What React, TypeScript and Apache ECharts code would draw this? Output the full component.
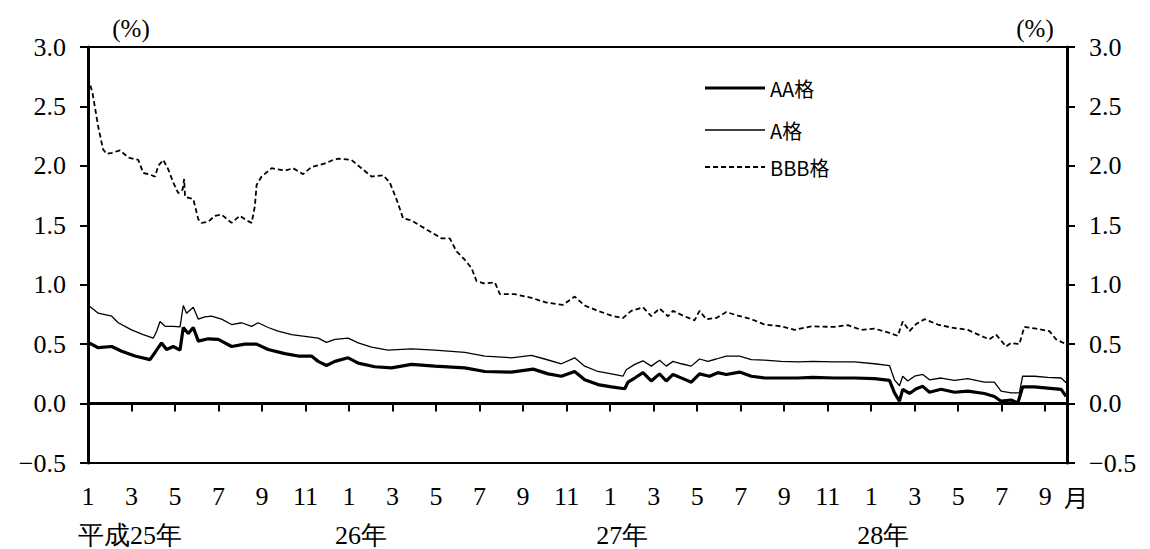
import React, { useEffect, useRef } from "react";
import * as echarts from "echarts";

// x = months elapsed since January 平成25年 (2013)
const monthTicks = [0, 2, 4, 6, 8, 10, 12, 14, 16, 18, 20, 22, 24, 26, 28, 30, 32, 34, 36, 38, 40, 42, 44];
const yearTicks = [0, 12, 24, 36];
const yearLabels = ["平成25年", "26年", "27年", "28年"];
const seriesNames = ["AA格", "A格", "BBB格"];

const aaData = [
  [0, 0.515], [0.47, 0.47], [1.09, 0.48], [1.55, 0.44], [2.16, 0.4], [2.85, 0.37], [3.08, 0.43], [3.38, 0.51],
  [3.61, 0.455], [3.92, 0.48], [4.23, 0.45], [4.38, 0.64], [4.61, 0.59], [4.84, 0.64], [5.07, 0.525], [5.53, 0.545],
  [5.99, 0.54], [6.6, 0.48], [7.21, 0.5], [7.75, 0.5], [8.28, 0.455], [9.05, 0.42], [9.66, 0.4], [10.27, 0.4],
  [10.58, 0.355], [10.96, 0.32], [11.35, 0.355], [11.96, 0.385], [12.42, 0.34], [13.18, 0.31], [13.95, 0.3],
  [14.87, 0.33], [15.94, 0.315], [17.32, 0.3], [18.24, 0.27], [19.46, 0.265], [20.46, 0.29], [21.15, 0.25],
  [21.76, 0.23], [22.37, 0.27], [22.83, 0.2], [23.44, 0.16], [24.06, 0.14], [24.67, 0.125], [24.82, 0.18],
  [25.13, 0.215], [25.51, 0.26], [25.89, 0.19], [26.27, 0.25], [26.58, 0.19], [26.89, 0.245], [27.35, 0.21],
  [27.73, 0.18], [28.11, 0.25], [28.57, 0.23], [28.95, 0.26], [29.34, 0.245], [29.95, 0.265], [30.49, 0.23],
  [31.1, 0.215], [31.86, 0.215], [32.63, 0.215], [33.32, 0.22], [34.31, 0.215], [35.23, 0.215], [36.15, 0.21],
  [36.84, 0.195], [37.07, 0.09], [37.3, 0.02], [37.45, 0.12], [37.76, 0.085], [38.07, 0.125], [38.37, 0.145],
  [38.68, 0.095], [39.21, 0.12], [39.83, 0.095], [40.44, 0.105], [41.2, 0.085], [41.66, 0.06], [41.97, 0.02],
  [42.43, 0.03], [42.74, 0.005], [42.96, 0.14], [43.5, 0.14], [44.11, 0.13], [44.73, 0.12], [44.96, 0.06],
];

const aData = [
  [0, 0.83], [0.47, 0.76], [1.09, 0.735], [1.39, 0.68], [2.0, 0.62], [2.54, 0.58], [3.0, 0.55], [3.16, 0.61],
  [3.31, 0.69], [3.54, 0.65], [3.92, 0.65], [4.23, 0.645], [4.38, 0.825], [4.53, 0.76], [4.84, 0.81], [5.07, 0.71],
  [5.37, 0.73], [5.68, 0.735], [6.14, 0.71], [6.6, 0.665], [7.06, 0.68], [7.52, 0.65], [7.82, 0.68], [8.28, 0.64],
  [8.74, 0.61], [9.36, 0.58], [9.97, 0.565], [10.58, 0.55], [10.96, 0.515], [11.35, 0.54], [11.96, 0.55],
  [12.42, 0.51], [13.03, 0.475], [13.79, 0.45], [14.87, 0.46], [15.94, 0.45], [17.32, 0.43], [18.24, 0.4],
  [19.46, 0.385], [20.38, 0.405], [20.99, 0.375], [21.76, 0.335], [22.37, 0.385], [22.83, 0.315], [23.44, 0.27],
  [24.06, 0.25], [24.59, 0.23], [24.74, 0.285], [25.13, 0.33], [25.51, 0.36], [25.89, 0.315], [26.27, 0.365],
  [26.58, 0.315], [26.89, 0.355], [27.27, 0.335], [27.73, 0.315], [28.11, 0.375], [28.49, 0.355], [28.88, 0.375],
  [29.34, 0.4], [29.95, 0.4], [30.49, 0.37], [31.1, 0.365], [31.86, 0.355], [32.63, 0.35], [33.32, 0.355],
  [34.31, 0.35], [35.23, 0.35], [36.15, 0.335], [36.84, 0.32], [37.07, 0.2], [37.3, 0.15], [37.45, 0.23],
  [37.68, 0.19], [37.99, 0.23], [38.37, 0.245], [38.68, 0.2], [39.21, 0.215], [39.83, 0.195], [40.44, 0.21],
  [41.2, 0.18], [41.66, 0.18], [41.97, 0.105], [42.43, 0.09], [42.81, 0.09], [42.96, 0.23], [43.5, 0.23],
  [44.11, 0.22], [44.73, 0.215], [44.96, 0.175],
];

const bbbData = [
  [0, 2.74], [0.2, 2.62], [0.47, 2.33], [0.69, 2.14], [0.86, 2.1], [1.1, 2.11], [1.47, 2.13], [1.85, 2.07],
  [2.31, 2.05], [2.54, 1.94], [2.8, 1.93], [3.08, 1.91], [3.23, 2.0], [3.46, 2.05], [3.69, 1.97], [3.92, 1.86],
  [4.15, 1.77], [4.35, 1.8], [4.42, 1.89], [4.46, 1.74], [4.84, 1.72], [5.07, 1.55], [5.22, 1.52], [5.53, 1.53],
  [5.83, 1.58], [6.14, 1.59], [6.6, 1.52], [6.98, 1.58], [7.3, 1.54], [7.52, 1.52], [7.67, 1.66], [7.75, 1.84],
  [7.98, 1.91], [8.44, 1.98], [9.05, 1.96], [9.43, 1.98], [9.89, 1.93], [10.27, 1.99], [10.89, 2.02], [11.27, 2.05],
  [11.5, 2.06], [12.11, 2.05], [12.57, 1.98], [13.03, 1.91], [13.57, 1.92], [13.87, 1.86], [14.18, 1.72],
  [14.48, 1.56], [14.87, 1.54], [15.33, 1.49], [15.79, 1.44], [16.25, 1.39], [16.63, 1.39], [16.94, 1.28],
  [17.32, 1.21], [17.63, 1.14], [17.86, 1.03], [18.24, 1.01], [18.7, 1.02], [18.93, 0.92], [19.61, 0.92],
  [20.38, 0.89], [21.07, 0.85], [21.83, 0.83], [22.37, 0.9], [22.83, 0.825], [23.44, 0.78], [24.06, 0.74],
  [24.59, 0.72], [24.97, 0.78], [25.51, 0.81], [25.89, 0.735], [26.27, 0.8], [26.66, 0.735], [26.89, 0.78],
  [27.35, 0.74], [27.88, 0.7], [28.11, 0.78], [28.42, 0.71], [28.88, 0.72], [29.34, 0.77], [29.87, 0.74],
  [30.49, 0.71], [31.1, 0.665], [31.86, 0.65], [32.48, 0.62], [33.24, 0.65], [34.3, 0.645], [34.93, 0.66],
  [35.54, 0.62], [36.15, 0.63], [36.76, 0.6], [37.22, 0.57], [37.45, 0.69], [37.76, 0.61], [38.07, 0.67],
  [38.45, 0.71], [39.06, 0.665], [39.67, 0.64], [40.44, 0.62], [41.05, 0.57], [41.43, 0.54], [41.74, 0.58],
  [42.2, 0.48], [42.43, 0.51], [42.81, 0.5], [43.04, 0.645], [43.58, 0.63], [44.19, 0.61], [44.5, 0.54],
  [44.96, 0.5],
];

const SERIF = "serif";
const CJK = "Noto Sans CJK JP";

const fmtY = (v: number) => (v < 0 ? "−" : "") + Math.abs(v).toFixed(1);

const lineStyles = [
  { color: "#000", width: 3.2 },
  { color: "#000", width: 1.3 },
  { color: "#000", width: 1.8, type: [5, 3] },
];

export default function App() {
  const ref = useRef<HTMLDivElement>(null);
  useEffect(() => {
    document.body.style.margin = "0";
    const chart = echarts.init(ref.current!, null, { renderer: "svg" });
    const yAxisCommon = {
      type: "value",
      min: -0.5,
      max: 3,
      interval: 0.5,
      splitLine: { show: false },
      axisLine: { show: true, lineStyle: { color: "#000", width: 3 } },
      axisTick: { show: true, length: 8, lineStyle: { color: "#000", width: 2 } },
      axisLabel: { color: "#000", fontSize: 26, fontFamily: SERIF, margin: 22, formatter: fmtY },
    };
    chart.setOption({
      animation: false,
      backgroundColor: "#fff",
      grid: { left: 88, right: 83, top: 47, bottom: 86, show: true, borderColor: "#000", borderWidth: 2, backgroundColor: "transparent" },
      xAxis: {
        type: "value",
        min: 0,
        max: 45,
        interval: 2,
        splitLine: { show: false },
        axisLine: { show: true, lineStyle: { color: "#000", width: 3 } },
        axisTick: { show: true, length: 8, customValues: monthTicks, lineStyle: { color: "#000", width: 2 } },
        axisLabel: {
          customValues: monthTicks,
          color: "#000",
          fontSize: 26,
          fontFamily: SERIF,
          margin: 20,
          formatter: (v: number) => String((Math.round(v) % 12) + 1),
        },
      },
      yAxis: [
        { ...yAxisCommon, position: "left" },
        { ...yAxisCommon, position: "right" },
      ],
      series: [
        { name: seriesNames[2], type: "line", data: bbbData, symbol: "none", z: 2, lineStyle: lineStyles[2] },
        { name: seriesNames[1], type: "line", data: aData, symbol: "none", z: 3, lineStyle: lineStyles[1] },
        {
          name: seriesNames[0],
          type: "line",
          data: aaData,
          symbol: "none",
          z: 4,
          lineStyle: lineStyles[0],
          markLine: {
            silent: true,
            symbol: "none",
            label: { show: false },
            lineStyle: { color: "#000", width: 1.5, type: "solid" },
            data: [{ yAxis: 0 }],
          },
        },
      ],
    });

    const gx = (v: number) => chart.convertToPixel({ xAxisIndex: 0 }, v) as number;
    const graphics: any[] = [];
    yearLabels.forEach((t, i) => {
      graphics.push({
        type: "text",
        x: i === 0 ? gx(yearTicks[i]) - 10 : gx(yearTicks[i]) + 12,
        y: 535,
        style: {
          text: t,
          fill: "#000",
          fontSize: 26,
          fontFamily: SERIF,
          textAlign: i === 0 ? "left" : "center",
          textVerticalAlign: "middle",
        },
      });
    });
    graphics.push({
      type: "text",
      x: gx(45) + 9,
      y: 496,
      style: { text: "月", fill: "#000", fontSize: 24, fontFamily: CJK, textAlign: "center", textVerticalAlign: "middle" },
    });
    [131, 1035].forEach((x) =>
      graphics.push({
        type: "text",
        x,
        y: 28,
        style: { text: "(%)", fill: "#000", fontSize: 25, fontFamily: SERIF, textAlign: "center", textVerticalAlign: "middle" },
      })
    );
    const legendRows = [88, 130, 167];
    [0, 1, 2].forEach((i) => {
      const ls = lineStyles[i] as any;
      graphics.push({
        type: "line",
        shape: { x1: 705, y1: legendRows[i], x2: 765, y2: legendRows[i] },
        style: { stroke: ls.color, lineWidth: ls.width, lineDash: ls.type || null },
      });
      graphics.push({
        type: "text",
        x: 770,
        y: legendRows[i],
        style: { text: seriesNames[i], fill: "#000", fontSize: 20, fontFamily: CJK, textAlign: "left", textVerticalAlign: "middle" },
      });
    });
    chart.setOption({ graphic: graphics });

    return () => chart.dispose();
  }, []);
  return <div ref={ref} style={{ width: 1150, height: 549 }} />;
}
